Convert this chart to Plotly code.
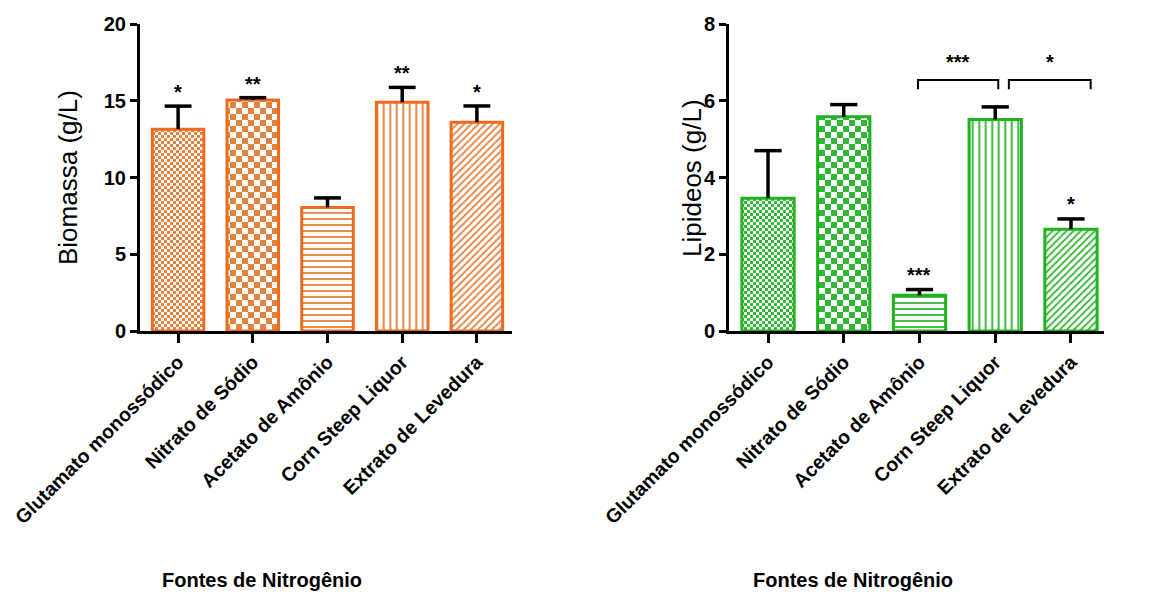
import plotly.graph_objects as go

# ---------------- data ----------------
categorias = ["Glutamato monossódico", "Nitrato de Sódio", "Acetato de Amônio",
              "Corn Steep Liquor", "Extrato de Levedura"]
biomassa = [13.15, 15.05, 8.05, 14.9, 13.6]
biomassa_err = [1.5, 0.15, 0.62, 0.97, 1.06]
biomassa_sig = ["*", "**", "", "**", "*"]
lipideos = [3.46, 5.58, 0.93, 5.51, 2.65]
lipideos_err = [1.24, 0.32, 0.15, 0.33, 0.27]
lipideos_sig = ["", "", "***", "", "*"]
lipideos_comp_a = [2, 3]
lipideos_comp_b = [3, 4]
lipideos_comp_sig = ["***", "*"]
y_ticks_bio = [0, 5, 10, 15, 20]
y_ticks_lip = [0, 2, 4, 6, 8]

# ---------------- style ----------------
ORANGE = "#F06A1E"
ORANGE_P = "#E3823F"
GREEN = "#1FB31F"
GREEN_P = "#35B535"
SANS = "Liberation Sans, Arial, sans-serif"

W, H = 1153, 592
xs = list(range(len(categorias)))


def checker(n):
    return f"M0,0H{n}V{n}H0Z M{n},{n}H{2*n}V{2*n}H{n}Z"


pattern_specs = [
    dict(kind="checker", n=3),
    dict(kind="checker", n=6),
    dict(shape="-", size=6, solidity=0.3),
    dict(shape="|", size=6.5, solidity=0.3),
    dict(shape="/", size=5, solidity=0.35),
]

HAS_PATH = "path" in go.bar.marker.Pattern()._valid_props


def make_pattern(spec, pcolor):
    if spec.get("kind") == "checker":
        if HAS_PATH:
            return dict(path=checker(spec["n"]), size=2 * spec["n"], fgcolor=pcolor,
                        bgcolor="white", fillmode="replace")
        return dict(shape=".", size=spec["n"] * 1.4, solidity=0.5, fgcolor=pcolor,
                    bgcolor="white", fillmode="replace")
    return dict(shape=spec["shape"], size=spec["size"], solidity=spec["solidity"],
                fgcolor=pcolor, bgcolor="white", fillmode="replace")


fig = go.Figure()


def add_panel(vals, errs, color, pcolor, xa, ya):
    for i, v in enumerate(vals):
        fig.add_trace(go.Bar(
            x=[xs[i]], y=[v], width=0.69, xaxis=xa, yaxis=ya,
            marker=dict(color="white", line=dict(color=color, width=3),
                        pattern=make_pattern(pattern_specs[i], pcolor)),
            showlegend=False, hoverinfo="skip"))
    # upper-only error bars (stem + cap)
    ex, ey = [], []
    cap = 0.18
    for i, (v, e) in enumerate(zip(vals, errs)):
        ex += [i, i, None, i - cap, i + cap, None]
        ey += [v, v + e, None, v + e, v + e, None]
    fig.add_trace(go.Scatter(x=ex, y=ey, mode="lines", xaxis=xa, yaxis=ya,
                             line=dict(color="black", width=3.5),
                             showlegend=False, hoverinfo="skip"))


add_panel(biomassa, biomassa_err, ORANGE, ORANGE_P, "x", "y")
add_panel(lipideos, lipideos_err, GREEN, GREEN_P, "x2", "y2")

STAR = dict(family=SANS, size=20, color="black", weight="bold")
annotations = []
for i, s in enumerate(biomassa_sig):
    if s:
        annotations.append(dict(x=i, y=biomassa[i] + biomassa_err[i], xref="x", yref="y",
                                text=s, showarrow=False, yanchor="bottom", yshift=1, font=STAR))
for i, s in enumerate(lipideos_sig):
    if s:
        annotations.append(dict(x=i, y=lipideos[i] + lipideos_err[i], xref="x2", yref="y2",
                                text=s, showarrow=False, yanchor="bottom", yshift=2, font=STAR))

shapes = []
tops = [lipideos[i] + lipideos_err[i] for i in range(len(lipideos))]
br_y = max(tops[a] for a in lipideos_comp_a + lipideos_comp_b) + 0.7
leg = 0.24
offs = [(-0.02, 0.04), (0.18, 0.26)]
for (a, b, s), (oa, ob) in zip(zip(lipideos_comp_a, lipideos_comp_b, lipideos_comp_sig), offs):
    x0, x1 = a + oa, b + ob
    shapes.append(dict(type="path", xref="x2", yref="y2",
                       path=f"M {x0},{br_y - leg} L {x0},{br_y} L {x1},{br_y} L {x1},{br_y - leg}",
                       line=dict(color="black", width=2)))
    annotations.append(dict(x=(x0 + x1) / 2, y=br_y, xref="x2", yref="y2", text=s,
                            showarrow=False, yanchor="bottom", yshift=5, font=STAR))

# axis titles
for xc, t in [(262, "Fontes de Nitrogênio"), (853, "Fontes de Nitrogênio")]:
    annotations.append(dict(x=xc / W, y=1 - 580 / H, xref="paper", yref="paper", text=t,
                            showarrow=False, xanchor="center", yanchor="middle",
                            font=dict(family=SANS, size=20, color="black", weight="bold")))
for xc, t in [(68, "Biomassa (g/L)"), (692, "Lipideos (g/L)")]:
    annotations.append(dict(x=xc / W, y=1 - 178 / H, xref="paper", yref="paper", text=t,
                            showarrow=False, xanchor="center", yanchor="middle", textangle=-90,
                            font=dict(family=SANS, size=26, color="black")))

xaxis_common = dict(tickvals=xs, ticktext=categorias, tickangle=-45, showline=True,
                    linecolor="black", linewidth=3, ticks="outside", ticklen=9, tickwidth=3,
                    tickcolor="black", showgrid=False, zeroline=False, automargin=False,
                    tickfont=dict(family=SANS, size=19.5, color="black", weight="bold"))
yaxis_common = dict(showline=True, linecolor="black", linewidth=3, ticks="outside",
                    ticklen=7, tickwidth=2.5, tickcolor="black", showgrid=False,
                    zeroline=False, automargin=False,
                    tickfont=dict(family=SANS, size=20, color="black", weight="bold"))

fig.update_layout(
    width=W, height=H, margin=dict(l=0, r=0, t=0, b=0, autoexpand=False),
    plot_bgcolor="white", paper_bgcolor="white", barmode="overlay",
    xaxis=dict(domain=[140 / W, 512 / W], range=[-0.51, 4.47], anchor="y", **xaxis_common),
    yaxis=dict(domain=[1 - 331 / H, 1 - 24 / H], range=[0, 20], tickvals=y_ticks_bio,
               anchor="x", **yaxis_common),
    xaxis2=dict(domain=[729 / W, 1104 / W], range=[-0.515, 4.436], anchor="y2", **xaxis_common),
    yaxis2=dict(domain=[1 - 331 / H, 1 - 24 / H], range=[0, 8], tickvals=y_ticks_lip,
                anchor="x2", **yaxis_common),
    annotations=annotations, shapes=shapes,
)

fig.write_html("out.html")
